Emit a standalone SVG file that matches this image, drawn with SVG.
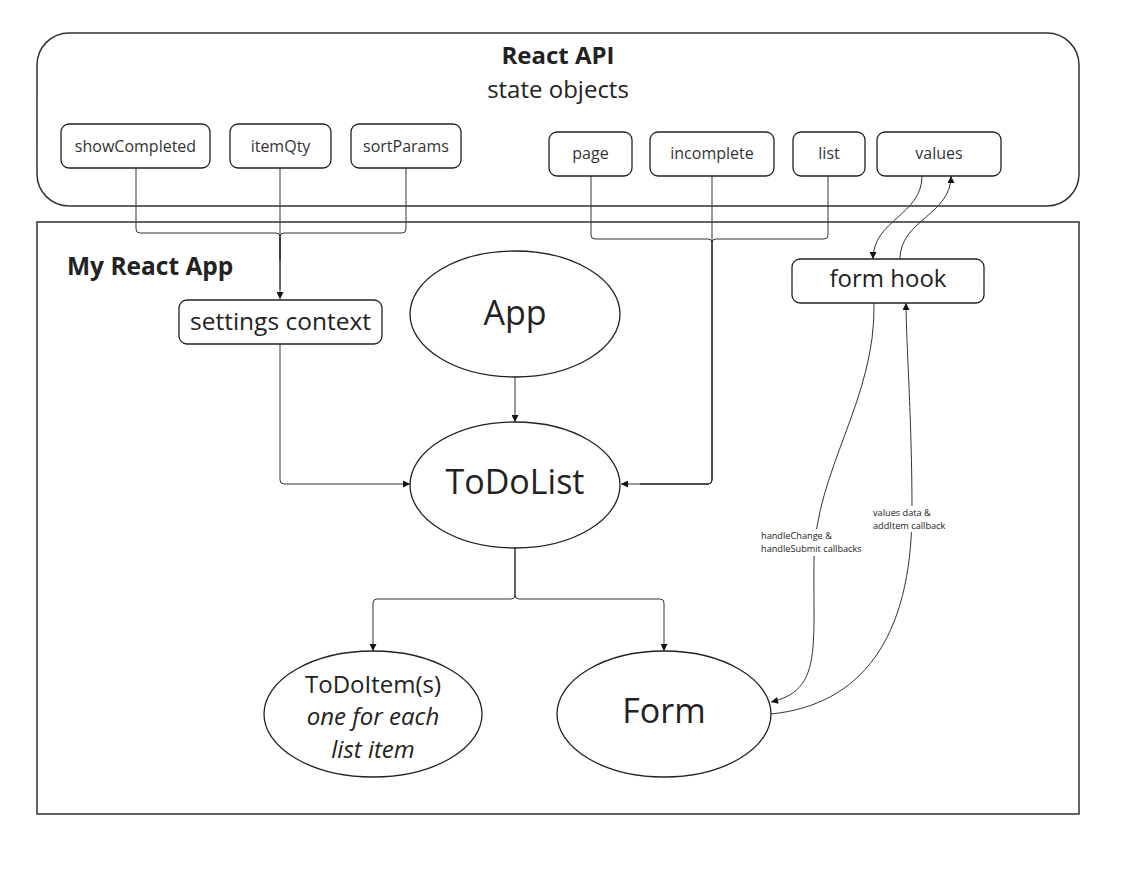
<svg xmlns="http://www.w3.org/2000/svg" width="1136" height="879" viewBox="0 0 1136 879">
<style>
  .frame{fill:#fff;stroke:#333;stroke-width:1.5}
  .box{fill:#fff;stroke:#222;stroke-width:1.3}
  .ell{fill:#fff;stroke:#222;stroke-width:1.3}
  .con{fill:none;stroke:#333;stroke-width:1}
  .t{font-family:"Open Sans","Noto Sans","Liberation Sans",sans-serif;fill:#222;text-anchor:middle}
  .sm{font-size:16px;fill:#333}
  .lbl{font-family:"Open Sans","Noto Sans","Liberation Sans",sans-serif;font-size:9.2px;fill:#222}
</style>
<defs>
  <marker id="arr" viewBox="0 0 10 10" refX="10" refY="5" markerWidth="9" markerHeight="7" markerUnits="userSpaceOnUse" orient="auto">
    <path d="M0,0 L10,5 L0,10 z" fill="#111"/>
  </marker>
</defs>
<rect width="1136" height="879" fill="#fff"/>

<g id="react-api">
  <rect class="frame" x="37" y="33" width="1042" height="173" rx="32"/>
  <text class="t" x="558" y="64" font-size="24" font-weight="bold">React API</text>
  <text class="t" x="558" y="98" font-size="24">state objects</text>
</g>
<g id="my-react-app">
  <rect class="frame" x="37" y="222" width="1042" height="592"/>
  <text x="67" y="275" font-family="'Open Sans','Noto Sans','Liberation Sans',sans-serif" font-size="24.5" font-weight="bold" fill="#222">My React App</text>
</g>

<g id="connectors">
  <path class="con" d="M136,168 V229 Q136,233 140,233 H276 Q280,233 280,237 V260"/>
  <path class="con" d="M406,168 V229 Q406,233 402,233 H284 Q280,233 280,237 V260"/>
  <path class="con" d="M280,168 V299" marker-end="url(#arr)"/>
  <path class="con" d="M280,237 V290"/>

  <path class="con" d="M591,176 V235 Q591,239 595,239 H708 Q712,239 712,243 V480 Q712,484 708,484 H640"/>
  <path class="con" d="M828,176 V235 Q828,239 824,239 H716 Q712,239 712,243 V480 Q712,484 708,484 H640"/>
  <path class="con" d="M712,176 V480 Q712,484 708,484 H621" marker-end="url(#arr)"/>

  <path class="con" d="M280,344 V480 Q280,484 284,484 H410" marker-end="url(#arr)"/>
  <path class="con" d="M515,377 V422" marker-end="url(#arr)"/>

  <path class="con" d="M515,548 V595 Q515,599 511,599 H377 Q373,599 373,603 V651" marker-end="url(#arr)"/>
  <path class="con" d="M515,548 V595 Q515,599 519,599 H660 Q664,599 664,603 V651" marker-end="url(#arr)"/>

  <path class="con" d="M922,176 C922,215 873,220 873,259" marker-end="url(#arr)"/>
  <path class="con" d="M900,259 C900,220 951,215 951,176" marker-end="url(#arr)"/>

  <path class="con" d="M874,303 C876,400 815,470 814,560 C813,650 822,690 771,702" marker-end="url(#arr)"/>
  <path class="con" d="M771,714 C860,705 912,640 912,510 C912,420 906,340 906,303" marker-end="url(#arr)"/>

  <g id="label-handle">
    <rect x="759" y="529" width="108" height="27" fill="#fff"/>
    <text class="lbl" x="761" y="539">handleChange &amp;</text>
    <text class="lbl" x="761" y="552">handleSubmit callbacks</text>
  </g>
  <g id="label-values">
    <rect x="871" y="506" width="78" height="26" fill="#fff"/>
    <text class="lbl" x="873" y="516">values data &amp;</text>
    <text class="lbl" x="873" y="529">addItem callback</text>
  </g>
</g>

<g id="showCompleted"><rect class="box" x="61" y="124" width="149" height="44" rx="8"/><text class="t sm" x="135.5" y="152">showCompleted</text></g>
<g id="itemQty"><rect class="box" x="230" y="124" width="101" height="44" rx="8"/><text class="t sm" x="280.5" y="152">itemQty</text></g>
<g id="sortParams"><rect class="box" x="351" y="124" width="110" height="44" rx="8"/><text class="t sm" x="406" y="152">sortParams</text></g>

<g id="page"><rect class="box" x="549" y="132" width="83" height="44" rx="8"/><text class="t sm" x="590.5" y="159">page</text></g>
<g id="incomplete"><rect class="box" x="650" y="132" width="124" height="44" rx="8"/><text class="t sm" x="712" y="159">incomplete</text></g>
<g id="list"><rect class="box" x="793" y="132" width="72" height="44" rx="8"/><text class="t sm" x="829" y="159">list</text></g>
<g id="values"><rect class="box" x="877" y="132" width="124" height="44" rx="8"/><text class="t sm" x="939" y="159">values</text></g>

<g id="settings-context"><rect class="box" x="179" y="300" width="203" height="44" rx="8"/><text class="t" x="280.5" y="330" font-size="24.5">settings context</text></g>
<g id="form-hook"><rect class="box" x="792" y="259" width="192" height="44" rx="8"/><text class="t" x="888" y="287" font-size="24">form hook</text></g>

<g id="App"><ellipse class="ell" cx="515" cy="314" rx="105" ry="63"/><text class="t" x="515" y="325" font-size="34">App</text></g>
<g id="ToDoList"><ellipse class="ell" cx="515" cy="485" rx="105" ry="63"/><text class="t" x="515" y="494" font-size="34">ToDoList</text></g>
<g id="ToDoItem"><ellipse class="ell" cx="373" cy="714" rx="109" ry="63"/>
  <text class="t" x="373" y="693" font-size="24">ToDoItem(s)</text>
  <text class="t" x="373" y="725" font-size="24" font-style="italic">one for each</text>
  <text class="t" x="373" y="758" font-size="24" font-style="italic">list item</text>
</g>
<g id="Form"><ellipse class="ell" cx="664" cy="714" rx="107" ry="63"/><text class="t" x="664" y="723" font-size="34">Form</text></g>
</svg>
